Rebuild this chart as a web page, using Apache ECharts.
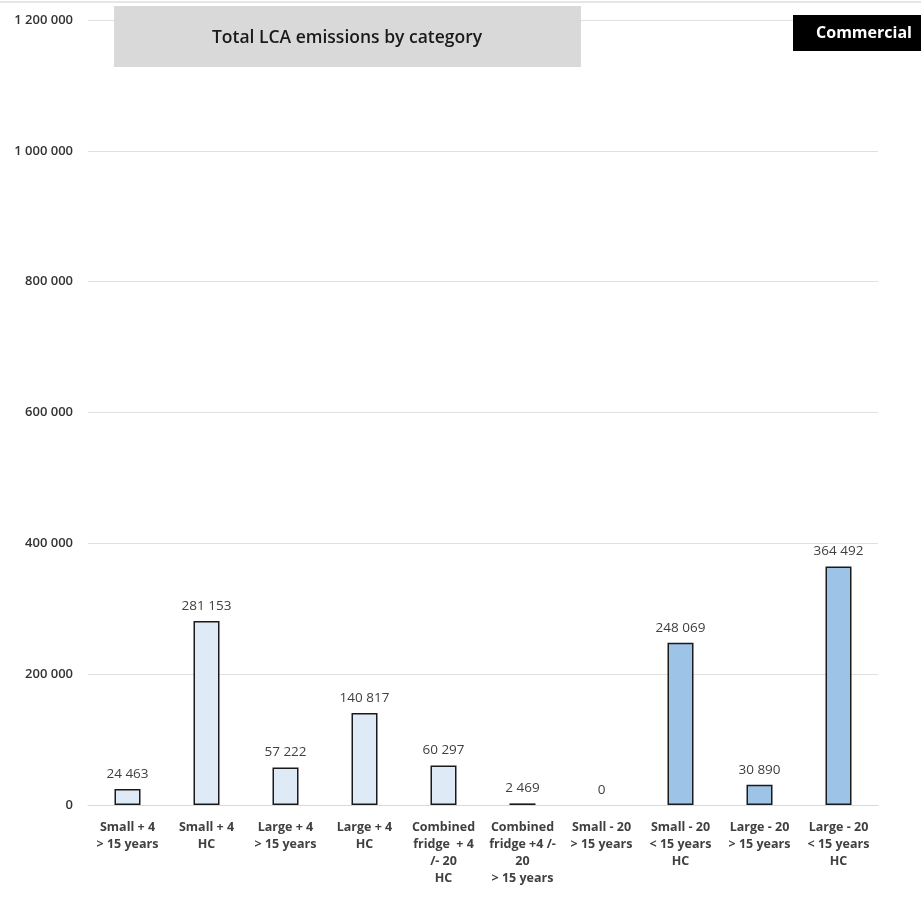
<!DOCTYPE html>
<html><head><meta charset="utf-8">
<script src="https://cdn.jsdelivr.net/npm/echarts@6/dist/echarts.min.js"></script>
<style>html,body{margin:0;padding:0;background:#fff}#c{width:921px;height:897px}</style>
</head><body><div id="c"></div>
<script>
const categories = [
  "Small + 4\n> 15 years",
  "Small + 4\nHC",
  "Large + 4\n> 15 years",
  "Large + 4\nHC",
  "Combined\nfridge  + 4\n/- 20\nHC",
  "Combined\nfridge +4 /-\n20\n> 15 years",
  "Small - 20\n> 15 years",
  "Small - 20\n< 15 years\nHC",
  "Large - 20\n> 15 years",
  "Large - 20\n< 15 years\nHC"
];
const values = [24463, 281153, 57222, 140817, 60297, 2469, 0, 248069, 30890, 364492];
const groups = ["plus4","plus4","plus4","plus4","plus4","plus4","minus20","minus20","minus20","minus20"];
const yTicks = [0, 200000, 400000, 600000, 800000, 1000000, 1200000];
const titleText = "Total LCA emissions by category";
const badgeText = "Commercial";

const colors = {plus4: "#DEEBF7", minus20: "#9DC3E6"};
const fmt = v => String(v).replace(/\B(?=(\d{3})+(?!\d))/g, " ");
const FONT = "'Open Sans', sans-serif";

const chart = echarts.init(document.getElementById('c'));
chart.setOption({
  animation: false,
  grid: {left: 88, right: 43, top: 20, bottom: 92, containLabel: false},
  xAxis: {
    type: 'category',
    data: categories,
    axisLine: {lineStyle: {color: '#d9d9d9', width: 1}},
    axisTick: {show: false},
    axisLabel: {interval: 0, color: '#404040', fontFamily: FONT, fontSize: 12.5, fontWeight: 'bold', lineHeight: 17, margin: 14}
  },
  yAxis: {
    type: 'value', min: 0, max: 1200000, interval: 200000,
    axisLine: {show: false}, axisTick: {show: false},
    splitLine: {lineStyle: {color: '#e0e0e0', width: 1}},
    axisLabel: {color: '#333', fontFamily: FONT, fontSize: 13, fontWeight: 600, margin: 15,
      formatter: v => yTicks.includes(v) ? fmt(v) : ''}
  },
  series: [{
    type: 'bar',
    barWidth: 26,
    data: values.map((v, i) => ({value: v, itemStyle: {color: colors[groups[i]], borderWidth: v === 0 ? 0 : 1.5}})),
    itemStyle: {borderColor: '#1a1a1a', borderWidth: 1.5},
    label: {show: true, position: 'top', distance: 8, color: '#404040', fontFamily: FONT, fontSize: 13.5,
      formatter: p => fmt(p.value)}
  }],
  graphic: [
    {type: 'line', shape: {x1: 0, y1: 2, x2: 921, y2: 2}, style: {stroke: '#e6e6e6', lineWidth: 2}, z: 10},
    {type: 'rect', shape: {x: 114, y: 6, width: 467, height: 61}, style: {fill: '#D9D9D9'}, z: 10},
    {type: 'text', x: 347, y: 38, z: 11, style: {text: titleText, fill: '#1a1a1a', font: "600 17.5px " + FONT, align: 'center', verticalAlign: 'middle'}},
    {type: 'rect', shape: {x: 793, y: 15, width: 128, height: 36}, style: {fill: '#000'}, z: 10},
    {type: 'text', x: 864, y: 33, z: 11, style: {text: badgeText, fill: '#fff', font: "bold 16px " + FONT, align: 'center', verticalAlign: 'middle'}}
  ]
});
</script></body></html>
